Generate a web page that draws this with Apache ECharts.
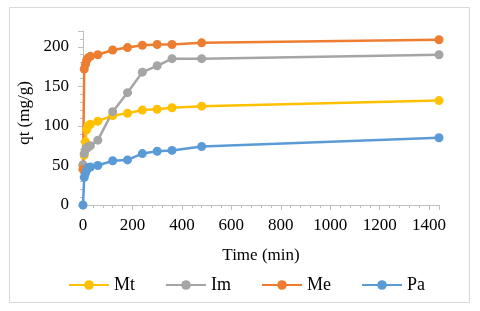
<!DOCTYPE html>
<html>
<head>
<meta charset="utf-8">
<script src="https://cdn.jsdelivr.net/npm/echarts@6/dist/echarts.min.js"></script>
<style>html,body{margin:0;padding:0;background:#fff}#c{width:480px;height:311px}</style>
</head>
<body>
<div id="c"></div>
<script>
var times = [0, 5, 10, 15, 20, 30, 60, 120, 180, 240, 300, 360, 480, 1440];
var seriesNames = ['Mt', 'Im', 'Me', 'Pa'];
var mt = [50, 63, 80, 95, 100, 102, 106, 113, 116, 120, 121, 123, 125, 132];
var im = [51, 65, 70, 72, 73, 75, 82, 118, 142, 168, 176, 185, 185, 190];
var me = [45, 172, 178, 183, 186, 188, 190, 196, 199, 202, 203, 203, 205, 209];
var pa = [0, 35, 40, 44, 47, 48, 50, 56, 57, 65, 68, 69, 74, 85];
var colors = ['#FFC000', '#A5A5A5', '#ED7D31', '#5B9BD5'];
var yTicks = [0, 50, 100, 150, 200];
var xTicks = [0, 200, 400, 600, 800, 1000, 1200, 1400];

function pairs(v) { return times.map(function (t, i) { return [t, v[i]]; }); }
var allValues = [mt, im, me, pa];
var font = '"Liberation Serif", "Times New Roman", serif';

var chart = echarts.init(document.getElementById('c'), null, {renderer: 'canvas'});
chart.setOption({
  animation: false,
  color: colors,
  graphic: [{
    type: 'rect', shape: {x: 9.5, y: 7.5, width: 460, height: 295},
    style: {fill: 'none', stroke: '#d9d9d9', lineWidth: 1}, silent: true, z: -1
  }],
  grid: {left: 83, top: 31, width: 356, bottom: 106},
  legend: {
    left: 63, top: 271, itemWidth: 40, itemHeight: 12, itemGap: 30,
    textStyle: {fontFamily: font, fontSize: 18, color: '#000'},
    data: seriesNames
  },
  xAxis: {
    type: 'value', min: 0, max: 1440, interval: 200,
    name: 'Time (min)', nameLocation: 'middle', nameGap: 42,
    nameTextStyle: {fontFamily: font, fontSize: 17, color: '#000'},
    axisLine: {lineStyle: {color: '#bfbfbf', width: 1}},
    axisTick: {show: true, length: 5, lineStyle: {color: '#bfbfbf'}},
    minorTick: {show: true, splitNumber: 5, length: 3, lineStyle: {color: '#bfbfbf'}},
    splitLine: {show: false},
    axisLabel: {
      fontFamily: font, fontSize: 17, color: '#000', margin: 12, showMaxLabel: false,
      formatter: function (v) { return xTicks.indexOf(v) >= 0 ? String(v) : ''; }
    }
  },
  yAxis: {
    type: 'value', min: 0, max: 220, interval: 50,
    name: 'qt (mg/g)', nameLocation: 'middle', nameGap: 50, nameRotate: 90,
    nameTextStyle: {fontFamily: font, fontSize: 17, color: '#000', padding: [0, 0, 0, 10]},
    axisLine: {show: true, lineStyle: {color: '#bfbfbf', width: 1}},
    axisTick: {show: true, length: 5, lineStyle: {color: '#bfbfbf'}},
    minorTick: {show: true, splitNumber: 5, length: 3, lineStyle: {color: '#bfbfbf'}},
    splitLine: {show: false},
    axisLabel: {
      fontFamily: font, fontSize: 17, color: '#000', margin: 14, showMaxLabel: false,
      formatter: function (v) { return yTicks.indexOf(v) >= 0 ? String(v) : ''; }
    }
  },
  series: seriesNames.map(function (n, i) {
    return {
      name: n, type: 'line', data: pairs(allValues[i]),
      symbol: 'circle', symbolSize: 9, showSymbol: true,
      lineStyle: {width: 2.5, color: colors[i]},
      itemStyle: {color: colors[i]},
      clip: false
    };
  })
});
</script>
</body>
</html>
